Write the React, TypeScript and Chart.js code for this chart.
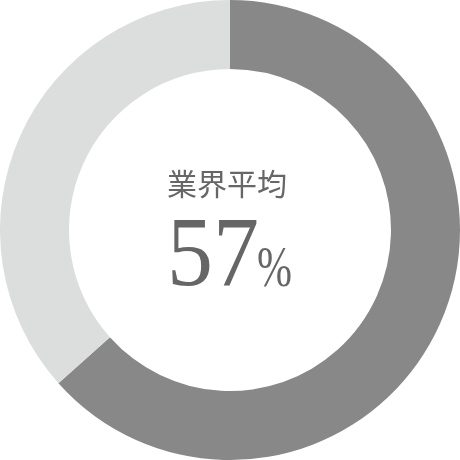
import React, { useEffect, useRef } from "react";
import { Chart, registerables } from "chart.js";

Chart.register(...registerables);

const categories = ["業界平均", "その他"];
const values = [63.4, 36.6];
const colors = ["#888888", "#dcdede"];
const centerTitle = "業界平均";
const centerValue = "57";
const centerUnit = "%";

const serif = '"Liberation Serif", "Times New Roman", Times, serif';

const centerTextPlugin = {
  id: "centerText",
  afterDraw(chart: any) {
    const ctx = chart.ctx;
    const meta = chart.getDatasetMeta(0);
    const arc = meta.data[0];
    if (!arc) return;
    const cx = arc.x;
    const cy = arc.y;
    ctx.save();
    ctx.fillStyle = "#666666";
    ctx.textAlign = "center";
    ctx.textBaseline = "alphabetic";
    ctx.font = '30px "Noto Sans CJK JP"';
    ctx.fillText(centerTitle, cx - 3, cy - 35);

    ctx.font = "100px " + serif;
    ctx.textAlign = "left";
    ctx.save();
    ctx.translate(cx - 63, cy + 55);
    ctx.scale(0.92, 1);
    ctx.fillText(centerValue, 0, 0);
    ctx.restore();

    ctx.font = "56px " + serif;
    ctx.save();
    ctx.translate(cx + 27, cy + 56);
    ctx.scale(0.75, 1);
    ctx.fillText(centerUnit, 0, 0);
    ctx.restore();
    ctx.restore();
  },
};

export default function App() {
  const ref = useRef<HTMLCanvasElement | null>(null);
  useEffect(() => {
    document.body.style.margin = "0";
    if (!ref.current) return;
    const chart = new Chart(ref.current, {
      type: "doughnut",
      data: {
        labels: categories,
        datasets: [
          {
            data: values,
            backgroundColor: colors,
            borderWidth: 0,
            hoverOffset: 0,
          },
        ],
      },
      options: {
        responsive: false,
        animation: false,
        cutout: "70%",
        layout: { padding: 0 },
        plugins: {
          legend: { display: false },
          tooltip: { enabled: false },
        },
      },
      plugins: [centerTextPlugin],
    });
    return () => chart.destroy();
  }, []);
  return (
    <div style={{ position: "absolute", left: 0, top: 0, width: 460, height: 460 }}>
      <canvas ref={ref} width={460} height={460} />
    </div>
  );
}
